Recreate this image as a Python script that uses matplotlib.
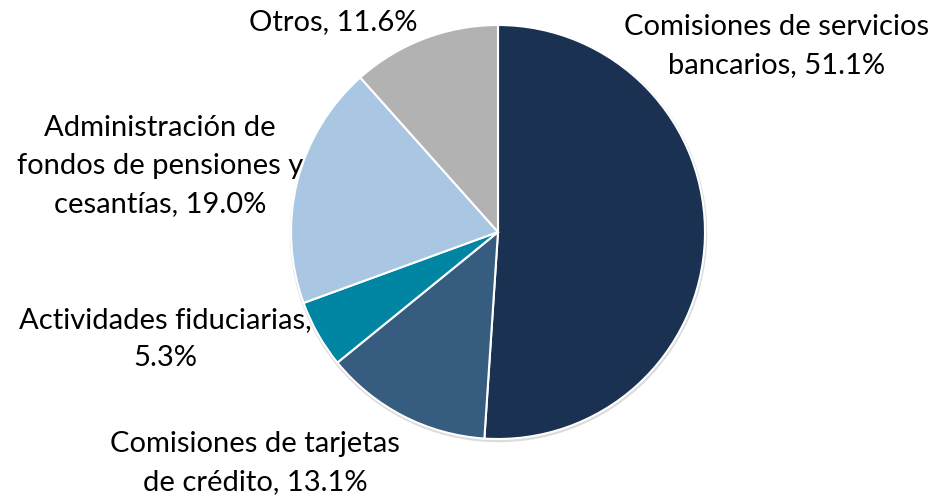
import matplotlib
matplotlib.use("Agg")
import matplotlib.pyplot as plt
from matplotlib.patches import Circle

categories = ["Comisiones de servicios\nbancarios",
              "Comisiones de tarjetas\nde crédito",
              "Actividades fiduciarias,\n",
              "Administración de\nfondos de pensiones y\ncesantías",
              "Otros"]
values = [51.1, 13.1, 5.3, 19.0, 11.6]
colors = ["#1B3152", "#365C80", "#0085A3", "#A9C7E2", "#B2B2B2"]

labels = []
for c, v in zip(categories, values):
    sep = "" if c.endswith("\n") else ", "
    labels.append(f"{c}{sep}{v:.1f}%")

W, H = 936, 496
fig = plt.figure(figsize=(W / 100, H / 100), dpi=100)
ax = fig.add_axes([0, 0, 1, 1])

cx, cy, r = 498, H - 232, 207
# faint shadow
ax.add_patch(Circle((cx + 0.5, cy - 1.5), r + 1, color="#dcdcdc", zorder=0))
ax.pie(values, colors=colors, startangle=90, counterclock=False,
       center=(cx, cy), radius=r, frame=True,
       wedgeprops=dict(edgecolor="white", linewidth=1.5))
ax.set_xlim(0, W)
ax.set_ylim(0, H)
ax.set_aspect("equal")
ax.axis("off")

font = dict(family="Lato", fontsize=21, color="black", ha="center", va="center",
            linespacing=1.55)
pos = [(777, 46), (255, 463), (165, 339), (160, 166), (333, 22)]
for lab, (x, y) in zip(labels, pos):
    ax.text(x, H - y, lab, **font)

fig.savefig("out.png", dpi=100)
